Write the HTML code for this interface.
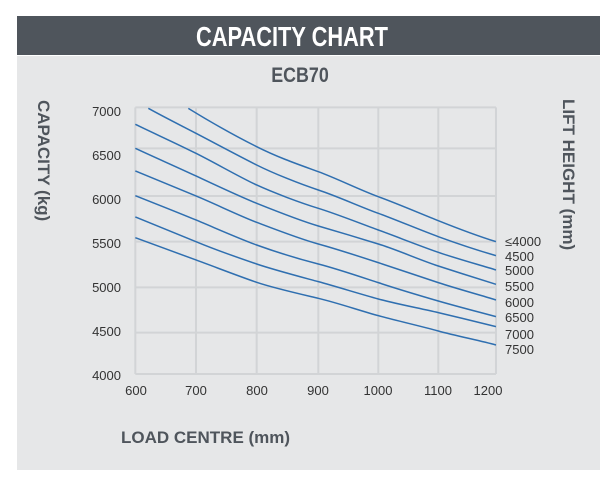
<!DOCTYPE html>
<html><head><meta charset="utf-8"><style>
body{margin:0;width:615px;height:481px;background:#fff;overflow:hidden}
svg{display:block}
.n{font-family:"Liberation Sans Narrow","Liberation Sans",sans-serif;font-weight:bold}
.t{font-family:"Liberation Sans",sans-serif;font-size:13px;fill:#333}
</style></head><body>
<svg width="615" height="481" viewBox="0 0 615 481">
<rect x="17" y="56" width="583" height="414" fill="#e6e7e8"/>
<rect x="17" y="16" width="583" height="39" fill="#4f555c"/>
<text text-anchor="middle" class="n" font-size="28" fill="#fff" transform="translate(292,46) scale(0.78,1)">CAPACITY CHART</text>
<text text-anchor="middle" class="n" font-size="21" fill="#4f555c" transform="translate(300,82) scale(0.85,1)">ECB70</text>
<text class="n" font-size="17" fill="#4f555c" transform="translate(38,100) rotate(90)">CAPACITY (kg)</text>
<text class="n" font-size="17" fill="#4f555c" transform="translate(563,99) rotate(90)">LIFT HEIGHT (mm)</text>
<text x="121" y="443" class="n" font-size="17" fill="#4f555c">LOAD CENTRE (mm)</text>
<g transform="translate(100,90) scale(0.3333)" fill="none">
<g stroke="#d2d4d6" stroke-width="6">
<path d="M106 52V852M288 52V852M470 52V852M655 52V852M835 52V852M1015 52V852M1188 52V852"/>
<path d="M106 52H1188M106 175H1188M106 318H1188M106 455H1188M106 592H1188M106 728H1188M106 852H1188"/>
</g>
<g stroke="#2f6fb0" stroke-width="4.5">
<path d="M265 55C330 95 400 135 470 170S600 225 655 245S780 300 835 320S960 370 1015 392S1140 440 1188 455"/>
<path d="M145 55C190 80 240 105 288 130S420 200 470 225S600 282 655 300S780 350 835 370S960 420 1015 440S1140 483 1188 497"/>
<path d="M106 103C166 132 228 160 288 190S420 262 470 285S600 338 655 355S780 400 835 420S960 468 1015 487S1140 525 1188 540"/>
<path d="M106 175C166 203 228 230 288 258S420 320 470 340S600 392 655 408S780 445 835 462S960 510 1015 528S1140 568 1188 583"/>
<path d="M106 243C166 268 228 293 288 318S420 378 470 397S600 447 655 462S780 500 835 518S960 560 1015 578S1140 615 1188 630"/>
<path d="M106 317C166 341 228 365 288 390S420 447 470 465S600 508 655 522S780 560 835 578S960 617 1015 633S1140 667 1188 680"/>
<path d="M106 381C166 406 228 430 288 455S420 505 470 522S600 560 655 575S780 612 835 627S960 655 1015 668S1140 698 1188 710"/>
<path d="M106 443C166 465 228 488 288 510S420 560 470 577S600 612 655 625S780 662 835 677S960 708 1015 723S1140 752 1188 765"/>
</g></g>
<g class="t" text-anchor="end">
<text x="121" y="116">7000</text><text x="121" y="160">6500</text><text x="121" y="204">6000</text>
<text x="121" y="248">5500</text><text x="121" y="292">5000</text><text x="121" y="336">4500</text><text x="121" y="380">4000</text>
</g>
<g class="t" text-anchor="middle">
<text x="136" y="395">600</text><text x="196" y="395">700</text><text x="257" y="395">800</text><text x="318" y="395">900</text>
<text x="378" y="395">1000</text><text x="438" y="395">1100</text><text x="488" y="395">1200</text>
</g>
<g class="t">
<text x="505" y="246">≤4000</text><text x="505" y="261">4500</text><text x="505" y="275">5000</text><text x="505" y="291">5500</text>
<text x="505" y="307">6000</text><text x="505" y="322">6500</text><text x="505" y="339">7000</text><text x="505" y="354">7500</text>
</g>
</svg>
</body></html>
